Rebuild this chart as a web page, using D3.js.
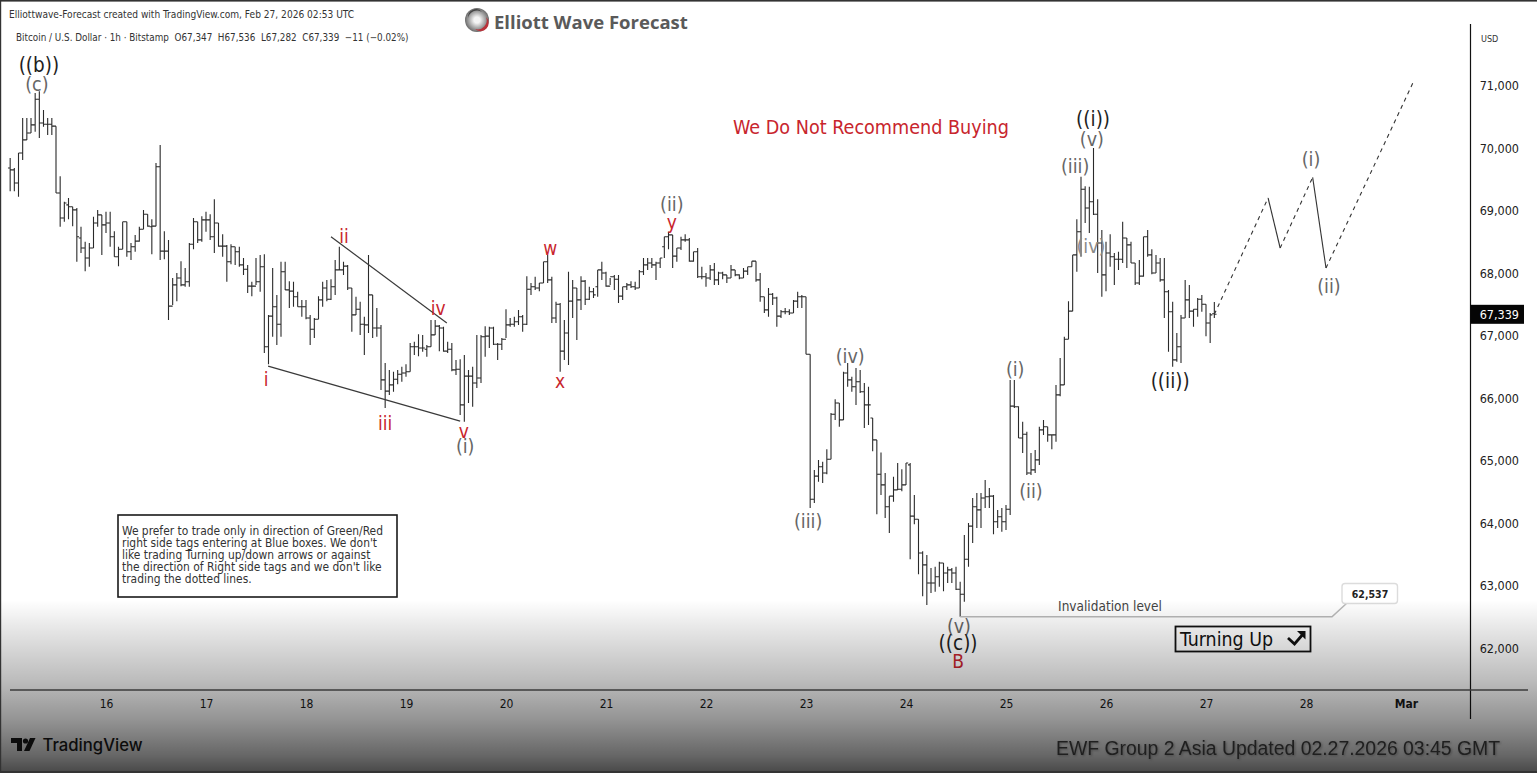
<!DOCTYPE html>
<html>
<head>
<meta charset="utf-8">
<title>Bitcoin / U.S. Dollar 1h</title>
<script src="https://cdn.jsdelivr.net/npm/d3@7"></script>
<style>
html, body { margin: 0; padding: 0; background: #fff; overflow: hidden; }
svg { display: block; }
text { font-family: "DejaVu Sans Condensed", "Open Sans", sans-serif; }
</style>
</head>
<body>
<div id="chart"></div>
<script>
// hourly bars, first one is Feb 15 01:00 UTC
const barOpen = [69680,69650,69440,69920,70130,70240,70370,70780,70400,70380,70380,70350,69280,68880,69090,69060,69010,68560,68400,68240,68400,68800,68930,68770,68800,68580,68260,68380,68820,68340,68420,68510,68700,68940,68740,68750,69700,68350,68350,67470,67810,67920,67810,67860,68460,68820,68530,68850,68850,68580,68800,68430,68430,68180,68420,68340,68130,68060,67790,67790,
  67860,68100,66820,67310,67460,67180,68020,67730,67710,67620,67460,67460,67280,67100,67260,67570,67760,67580,67780,68050,68050,68110,67760,67330,67420,67180,67170,67650,67120,67120,66290,66110,66210,66300,66380,66400,66420,66820,66820,66800,66780,66820,67010,67150,67120,66750,66780,66450,66460,65890,66350,66350,66240,66320,66980,66990,67120,66860,66860,66940,67170,67180,67220,67300,67180,67740,67780,67760,67840,68180,67890,67280,67500,66750,67040,67550,67760,67570,67870,67580,67700,67780,68050,68000,67790,67940,67900,67630,67780,67810,67780,67760,68020,68130,
  68160,68130,68160,68420,68580,68610,68270,68400,68530,68530,68190,68340,67940,67940,67920,68050,67890,68000,67970,67920,68050,67970,67920,68030,68100,68190,67890,67620,67410,67660,67600,67310,67380,67380,67360,67550,67620,67620,66700,64380,64750,64900,64800,65020,65740,65920,65650,66400,66290,66180,66260,66100,65890,65680,65330,64780,64610,64260,64430,64530,64540,64610,64930,64110,64060,63520,63330,63040,63040,63140,63360,63200,63250,63200,62940,62860,63420,63950,64260,64210,64400,64420,64430,64020,64100,64020,64220,65870,65860,65360,65420,64800,64850,65010,65490,65540,65410,65410,66050,66210,66940,67390,68290,68660,69340,69040,69140,68940,68480,67970,68320,68260,68220,68220,68560,68450,68160,67840,67950,68580,68290,68000,68160,67890,67700,67380,66610,66820,67280,67570,67390,67420,67580,67500,67200,67347];
const barHigh = [69840,69680,69920,70480,70480,70480,70880,70910,70610,70480,70480,70350,69550,69140,69200,69060,69040,68740,68500,68480,68900,69010,68930,68980,68980,68670,68420,68820,68820,68480,68610,68740,69010,68940,68860,69760,70050,68670,68530,67920,68000,68190,68080,68480,68880,68820,68910,68980,68940,69180,68800,68620,68450,68460,68420,68420,68240,68130,67860,68240,
  68290,68300,67330,68080,67650,68180,68180,67870,67860,67700,67570,67570,67330,67280,67630,67860,67890,67900,68210,68420,68180,68130,67760,67620,67540,67300,68290,67650,67440,67170,66560,66450,66420,66450,66500,66540,66880,66900,67020,67010,66850,67250,67250,67170,67140,66900,66880,66610,66620,66690,66450,66500,67010,67010,67150,67140,67140,66880,66960,67420,67280,67300,67410,67330,67950,67840,67940,67840,68180,68290,67940,67540,67520,67250,68020,67890,67760,67950,67890,67780,67760,68050,68180,68020,67920,67970,67970,67780,67840,67870,67860,68050,68240,68240,
  68240,68180,68240,68580,68660,68610,68400,68580,68620,68560,68340,68400,68100,68000,68130,68160,68020,68020,67970,68130,68050,67980,68080,68100,68190,68190,68000,67620,67760,67680,67620,67410,67440,67420,67570,67700,67650,67620,66700,64850,65010,64980,65180,65760,65980,65920,66420,66560,66340,66480,66450,66240,66180,65680,65330,65130,64800,64430,64740,64960,64860,64960,64960,64450,64060,63550,63490,63280,63300,63380,63360,63300,63280,63300,63060,63810,64000,64400,64480,64480,64690,64560,64450,64210,64240,64290,66290,66290,65870,65620,65460,65120,65170,65540,65650,65540,65410,66210,66640,66980,67550,68290,68860,69540,69390,69380,70000,69180,68690,68500,68620,68320,68340,68820,68560,68500,68160,68210,68580,68690,68380,68290,68240,68240,67730,67540,67040,67330,67890,67810,67420,67600,67650,67500,67360,67536];
const barLow = [69310,69310,69220,69810,70130,70240,70260,70160,70340,70210,70210,69280,68740,68820,68860,68750,68180,68320,68030,68100,68400,68740,68290,68640,68420,68260,68110,68380,68260,68210,68340,68500,68700,68740,68300,68750,68210,68220,67250,67490,67550,67790,67780,67780,68380,68480,68500,68660,68530,68320,68420,68260,67860,68140,68130,68100,67970,67680,67630,67810,
  67700,66720,66540,66980,66850,66980,67730,67440,67460,67460,67300,67260,66850,66960,67260,67460,67550,67570,67650,68050,67970,67730,67060,67330,67010,66690,67040,66960,66980,66130,65840,66050,66100,66220,66260,66340,66420,66690,66670,66740,66660,66820,67010,66750,66740,66720,66430,66370,65730,65620,65920,65860,66160,66240,66660,66800,66850,66610,66770,66960,67140,67140,67170,67060,67170,67650,67730,67710,67840,67840,67200,67200,66420,66610,66530,67280,66930,67410,67490,67570,67600,67620,67890,67780,67810,67730,67520,67570,67730,67760,67730,67760,67970,68050,
  68080,67890,68080,68240,68380,68080,68180,68370,68500,68180,68180,67920,67900,67780,67890,67810,67810,67900,67840,67920,67950,67900,67920,67970,68100,67860,67540,67360,67300,67490,67140,67280,67340,67330,67360,67440,67440,66700,64240,64320,64660,64640,64780,65020,65650,65540,65650,66180,66100,65890,66080,65520,65570,65150,64140,64450,64080,63840,64340,64530,64510,64610,63420,63980,63180,62830,62690,62880,62900,62980,62910,63040,63040,62930,62500,62740,63300,63680,63920,63920,64240,64240,63820,63920,63860,63890,64130,65840,65360,65120,64770,64770,64800,64930,65410,65300,65180,65300,66030,66210,66940,67390,68020,68260,68800,68640,68930,68000,67620,67710,68100,67810,68050,68160,68080,68160,67810,67810,67940,68260,67980,68000,67860,67280,66740,66500,66580,66560,67280,67280,67140,67300,67380,66990,66880,67282];
const barClose = [69650,69440,69920,70130,70240,70370,70780,70400,70380,70380,70350,69280,68880,69120,69060,69010,68580,68400,68240,68400,68800,68930,68770,68800,68580,68260,68380,68820,68340,68420,68510,68700,68940,68750,68750,69700,68350,68350,67470,67810,67920,67810,67860,68460,68820,68530,68850,68850,68580,68800,68430,68430,68180,68420,68340,68130,68060,67790,67790,67860,
  68100,66820,67310,67460,67180,68020,67730,67710,67620,67460,67460,67280,67100,67260,67570,67760,67580,67780,68050,68050,68110,67760,67330,67420,67180,67170,67650,67120,67120,66290,66110,66210,66300,66380,66400,66420,66820,66820,66800,66800,66820,67010,67150,67120,66750,66780,66450,66460,65890,66350,66350,66240,66320,66980,66990,67120,66860,66860,66940,67170,67180,67220,67300,67180,67740,67780,67760,67840,68180,67890,67280,67500,66750,67040,67550,67760,67570,67870,67580,67700,67650,68050,68000,67790,67940,67900,67630,67780,67810,67780,67760,68020,68130,68160,
  68130,68160,68240,68580,68610,68270,68400,68530,68530,68190,68340,67940,67940,67920,68050,67890,68000,67970,67920,68050,67970,67920,68030,68100,68190,67890,67620,67410,67660,67600,67310,67380,67380,67360,67550,67620,67620,66700,64380,64750,64900,64800,65020,65740,65920,65650,66400,66290,66180,66260,66100,65890,65890,65330,64780,64610,64260,64430,64530,64540,64610,64960,64110,64060,63520,63330,63040,63040,63140,63360,63200,63250,63200,62940,62860,63420,63950,64260,64210,64400,64420,64430,64020,64100,64020,64220,65870,65860,65360,65420,64800,64850,65010,65490,65540,65410,65410,66050,66210,66940,67390,68290,68660,69340,69040,69140,68940,68480,67970,68320,68260,68220,68220,68560,68450,68160,67840,67950,68580,68290,68000,68160,67890,67700,67380,66610,66820,67280,67570,67390,67420,67580,67500,67200,67330,67339];

const priceTicks = [62000,63000,64000,65000,66000,67000,68000,69000,70000,71000];
const dayTicks = ['2026-02-16','2026-02-17','2026-02-18','2026-02-19','2026-02-20','2026-02-21','2026-02-22','2026-02-23','2026-02-24','2026-02-25','2026-02-26','2026-02-27','2026-02-28','2026-03-01'];
const lastPrice = 67339;
const invalidation = 62537;
const invalidationDrawn = 62500; // line sits on the bar low in the picture

// wave labels: hours after Feb 16 00:00, price, kind
const labelText  = ['((b))','(c)','ii','i','iii','iv','v','(i)','w','x','(ii)','y','(iv)','(iii)','(v)','((c))','B','(i)','(ii)','((i))','(v)','(iii)','(iv)','((ii))','(i)','(ii)'];
const labelHour  = [-16.1,-16.6,57.1,38.4,67,79.7,85.9,86.2,106.6,109,135.8,135.8,178.6,168.5,204.7,204.5,204.5,218.2,222,236.9,236.6,232.6,236.4,255.4,289.2,293.5];
const labelPrice = [71330,71020,68590,66300,65600,67440,65470,65220,68400,66270,69090,68820,66660,64030,62350,62080,61790,66450,64510,70460,70140,69700,68430,66270,69810,67780];
const labelKind  = ['major','minor','red','red','red','red','red','minor','red','red','minor','red','minor','minor','minor','major','red','minor','minor','major','minor','minor','faint','major','minor','minor'];

// wedge lines
const wedgeHour  = [[54,81.8],[38.9,85]];
const wedgePrice = [[68580,67200],[66510,65630]];

// projected path after the last bar
const pathHour  = [266,278.9,281.8,289.6,292.8,314];
const pathPrice = [67339,69200,68400,69530,68080,71090];

const noteLines = [
  'We prefer to trade only in direction of Green/Red',
  "right side tags entering at Blue boxes. We don't",
  'like trading Turning up/down arrows or against',
  "the direction of Right side tags and we don't like",
  'trading the dotted lines.'
];

const width = 1537;
const height = 773;
const chartRight = 1470.5;
const chartBottom = 690;

const x = d3.scaleUtc()
  .domain([new Date('2026-02-16T00:00:00Z'), new Date('2026-03-01T00:00:00Z')])
  .range([106, 1406]);
const y = d3.scaleLinear()
  .domain([62000, 71000])
  .range([648, 85.5]);

const hourX = h => x(new Date(Date.UTC(2026, 1, 16) + h * 3600000));

const svg = d3.select('#chart').append('svg')
  .attr('width', width)
  .attr('height', height)
  .attr('viewBox', `0 0 ${width} ${height}`);

const defs = svg.append('defs');
const fade = defs.append('linearGradient')
  .attr('id', 'fade').attr('x1', 0).attr('x2', 0).attr('y1', 0).attr('y2', 1);
[[0, 0], [0.12, 0.07], [0.46, 0.26], [0.69, 0.42], [0.9, 0.6], [1, 0.72]].forEach(s => {
  fade.append('stop').attr('offset', s[0]).attr('stop-color', '#000').attr('stop-opacity', s[1]);
});
const logoFill = defs.append('radialGradient').attr('id', 'logoFill');
logoFill.append('stop').attr('offset', 0.25).attr('stop-color', '#f4f4f4');
logoFill.append('stop').attr('offset', 1).attr('stop-color', '#6b6b6b');

svg.append('rect').attr('width', width).attr('height', height).attr('fill', '#fff');

// bars
const bars = svg.append('g').attr('stroke', '#2a2a2a').attr('stroke-width', 1.1).attr('fill', 'none');
barClose.forEach((c, i) => {
  const bx = hourX(i - 23);
  bars.append('path').attr('d',
    `M${bx},${y(barHigh[i])}V${y(barLow[i])}` +
    `M${bx - 2.2},${y(barOpen[i])}H${bx}` +
    `M${bx},${y(c)}H${bx + 2.2}`);
});

// wedge
wedgeHour.forEach((w, i) => {
  svg.append('line')
    .attr('x1', hourX(w[0])).attr('x2', hourX(w[1]))
    .attr('y1', y(wedgePrice[i][0])).attr('y2', y(wedgePrice[i][1]))
    .attr('stroke', '#3a3a3a').attr('stroke-width', 1.2);
});

// projection, dashed going up and solid coming down
pathHour.slice(1).forEach((h, i) => {
  svg.append('line')
    .attr('x1', hourX(pathHour[i])).attr('y1', y(pathPrice[i]))
    .attr('x2', hourX(h)).attr('y2', y(pathPrice[i + 1]))
    .attr('stroke', '#333').attr('stroke-width', 1.1)
    .attr('stroke-dasharray', i % 2 === 0 ? '4 4' : null);
});

// wave labels
const labelStyle = {
  major: {size: 20.5, fill: '#1e1e1e'},
  minor: {size: 19.5, fill: '#666'},
  faint: {size: 19.5, fill: '#8a8a8a'},
  red:   {size: 19, fill: '#c8252d'}
};
labelText.forEach((t, i) => {
  const s = labelStyle[labelKind[i]];
  svg.append('text')
    .attr('x', hourX(labelHour[i]))
    .attr('y', y(labelPrice[i]))
    .attr('text-anchor', 'middle')
    .attr('dominant-baseline', 'central')
    .attr('font-size', s.size)
    .attr('fill', s.fill)
    .text(t);
});

svg.append('text')
  .attr('x', 871).attr('y', 127)
  .attr('text-anchor', 'middle').attr('dominant-baseline', 'central')
  .attr('font-size', 19.6).attr('fill', '#c8252d')
  .text('We Do Not Recommend Buying');

// axes
const yAxis = d3.axisRight(y).tickValues(priceTicks).tickSize(0).tickPadding(0).tickFormat(d3.format(','));
const yg = svg.append('g').attr('transform', `translate(1519,0)`).call(yAxis);
yg.select('.domain').remove();
yg.selectAll('text').attr('text-anchor', 'end').attr('font-size', 12.5).attr('fill', '#222')
  .style('font-family', '"DejaVu Sans Condensed", sans-serif');

const xAxis = d3.axisBottom(x)
  .tickValues(dayTicks.map(d => new Date(d + 'T00:00:00Z')))
  .tickSize(0).tickPadding(8)
  .tickFormat(d => d.getUTCDate() === 1 ? 'Mar' : d.getUTCDate());
const xg = svg.append('g').attr('transform', `translate(0,${chartBottom + 1})`).call(xAxis);
xg.select('.domain').remove();
xg.selectAll('text').attr('font-size', 12).attr('fill', '#1a1a1a')
  .attr('font-weight', d => d.getUTCDate() === 1 ? 'bold' : null)
  .style('font-family', '"DejaVu Sans Condensed", sans-serif');

svg.append('line').attr('x1', chartRight).attr('x2', chartRight).attr('y1', 24).attr('y2', 719)
  .attr('stroke', '#111').attr('stroke-width', 1.2);
svg.append('line').attr('x1', 10).attr('x2', 1528).attr('y1', chartBottom).attr('y2', chartBottom)
  .attr('stroke', '#555').attr('stroke-width', 1.6);

svg.append('text').attr('x', 1481).attr('y', 39).attr('dominant-baseline', 'central')
  .attr('font-size', 9).attr('fill', '#333').text('USD');

// last price tag
const tagY = y(lastPrice);
svg.append('rect').attr('x', 1470.5).attr('y', tagY - 9.5).attr('width', 53.5).attr('height', 19).attr('fill', '#050505');
svg.append('text').attr('x', 1519).attr('y', tagY).attr('text-anchor', 'end').attr('dominant-baseline', 'central')
  .attr('font-size', 12.5).attr('fill', '#fff').text(d3.format(',')(lastPrice));

// invalidation line with callout
const invY = y(invalidationDrawn);
const invX = hourX(205);
svg.append('path')
  .attr('d', `M${invX},${invY}H1332L1347,603`)
  .attr('fill', 'none').attr('stroke', '#b9b9b9').attr('stroke-width', 1.6);
svg.append('text').attr('x', 1110).attr('y', 606).attr('text-anchor', 'middle').attr('dominant-baseline', 'central')
  .attr('font-size', 13.5).attr('fill', '#444').text('Invalidation level');
svg.append('rect').attr('x', 1342).attr('y', 583.5).attr('width', 55.5).attr('height', 20).attr('rx', 3)
  .attr('fill', '#fff').attr('stroke', '#dcdcdc').attr('stroke-width', 1.4);
svg.append('text').attr('x', 1370).attr('y', 593.5).attr('text-anchor', 'middle').attr('dominant-baseline', 'central')
  .attr('font-size', 10.5).attr('font-weight', 'bold').attr('fill', '#222').text(d3.format(',')(invalidation));

// turning up box
svg.append('rect').attr('x', 1175.5).attr('y', 626.5).attr('width', 135).attr('height', 25)
  .attr('fill', 'none').attr('stroke', '#111').attr('stroke-width', 1.8);
svg.append('text').attr('x', 1180).attr('y', 639).attr('dominant-baseline', 'central')
  .attr('font-size', 19.4).attr('fill', '#111').text('Turning Up');
svg.append('path').attr('d', 'M1288,638L1294.5,644L1304,633')
  .attr('fill', 'none').attr('stroke', '#111').attr('stroke-width', 2.8);
svg.append('path').attr('d', 'M1297,631H1305.5V639.5Z').attr('fill', '#111');

// note box
svg.append('rect').attr('x', 118).attr('y', 515).attr('width', 279).attr('height', 82)
  .attr('fill', '#fff').attr('stroke', '#1a1a1a').attr('stroke-width', 1.6);
noteLines.forEach((t, i) => {
  svg.append('text').attr('x', 122).attr('y', 535 + i * 11.9)
    .attr('font-size', 11.9).attr('fill', '#333').text(t);
});

// header
svg.append('text').attr('x', 9).attr('y', 18).attr('font-size', 10.1).attr('fill', '#333')
  .text('Elliottwave-Forecast created with TradingView.com, Feb 27, 2026 02:53 UTC');
svg.append('text').attr('x', 16).attr('y', 41).attr('font-size', 9.8).attr('fill', '#333')
  .style('white-space', 'pre')
  .text('Bitcoin / U.S. Dollar · 1h · Bitstamp  O67,347  H67,536  L67,282  C67,339  −11 (−0.02%)');

// logo
const logo = svg.append('g').attr('transform', 'translate(477,20)');
logo.append('circle').attr('r', 12).attr('fill', 'url(#logoFill)');
logo.append('path').attr('d', 'M-2,9 A9,9 0 0 0 9,-3 A6,6 0 0 1 -2,9')
  .attr('fill', '#b9323a');
logo.append('path').attr('d', 'M-9,-2 A9,9 0 0 1 5,-8 A8,8 0 0 0 -9,-2').attr('fill', '#444');
svg.append('text').attr('x', 494).attr('y', 21).attr('dominant-baseline', 'central')
  .attr('font-size', 18.5).attr('font-weight', 'bold').attr('fill', '#5a5a5a')
  .style('font-family', '"Open Sans", sans-serif')
  .text('Elliott Wave Forecast');

// shading over the lower part
svg.append('rect').attr('x', 0).attr('y', 600).attr('width', width).attr('height', 173).attr('fill', 'url(#fade)');

// footer
const tvLogo = svg.append('g').attr('transform', 'translate(11,738)').attr('fill', '#0c0c0c');
tvLogo.append('path').attr('d', 'M0,0H11V13H6V5H0Z');
tvLogo.append('circle').attr('cx', 14.5).attr('cy', 3).attr('r', 2.6);
tvLogo.append('path').attr('d', 'M19,0H24.5L18.5,13H13Z');
svg.append('text').attr('x', 42.5).attr('y', 745).attr('dominant-baseline', 'central')
  .attr('font-size', 16.7).attr('font-weight', '500').attr('fill', '#0c0c0c')
  .style('font-family', 'Inter, sans-serif').text('TradingView');
svg.append('text').attr('x', 1056).attr('y', 748).attr('dominant-baseline', 'central')
  .attr('font-size', 19.4).attr('fill', '#1f1f1f')
  .style('font-family', '"Liberation Sans", sans-serif')
  .style('filter', 'drop-shadow(1px 1px 1px rgba(60,60,60,0.7))')
  .text('EWF Group 2 Asia Updated 02.27.2026 03:45 GMT');

// window edge
svg.append('rect').attr('x', 0).attr('y', 0).attr('width', width).attr('height', 1.6).attr('fill', '#333');
svg.append('rect').attr('x', 0).attr('y', 0).attr('width', 1.2).attr('height', height).attr('fill', '#333');
svg.append('rect').attr('x', 0).attr('y', 771).attr('width', width).attr('height', 2).attr('fill', '#333');
</script>
</body>
</html>
